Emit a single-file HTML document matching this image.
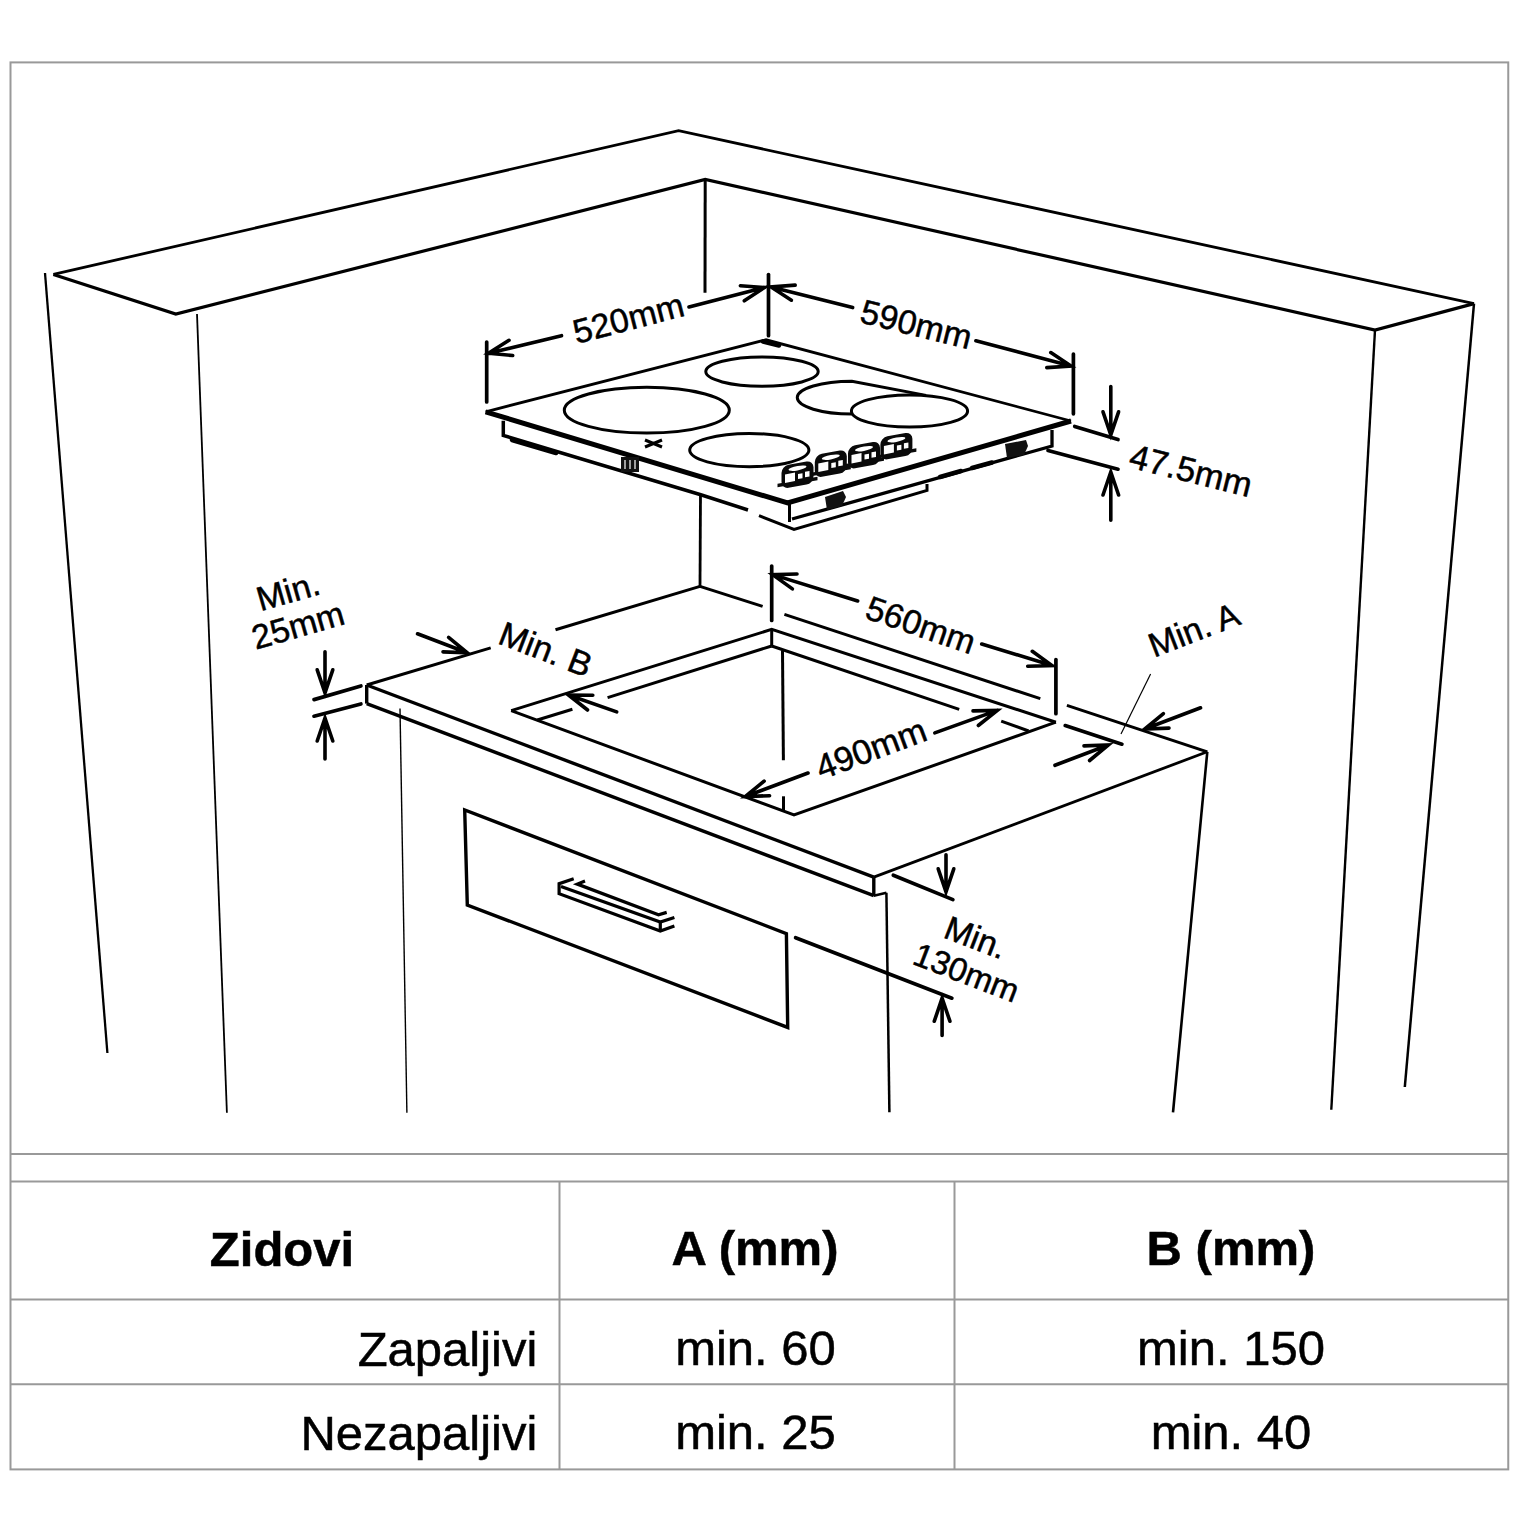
<!DOCTYPE html>
<html><head><meta charset="utf-8"><style>
html,body{margin:0;padding:0;background:#fff;width:1536px;height:1536px;overflow:hidden}
svg{display:block}
text{font-family:"Liberation Sans",sans-serif;fill:#000;stroke:#000;stroke-width:0.5px}
</style></head><body>
<svg width="1536" height="1536" viewBox="0 0 1536 1536">
<rect x="10.5" y="62.4" width="1497.75" height="1407" fill="none" stroke="#999" stroke-width="2"/>
<g stroke="#999" stroke-width="2">
<line x1="10.5" y1="1154" x2="1508.25" y2="1154"/>
<line x1="10.5" y1="1181.5" x2="1508.25" y2="1181.5"/>
<line x1="10.5" y1="1299.5" x2="1508.25" y2="1299.5"/>
<line x1="10.5" y1="1384.2" x2="1508.25" y2="1384.2"/>
<line x1="559.5" y1="1181.5" x2="559.5" y2="1469.4"/>
<line x1="954.5" y1="1181.5" x2="954.5" y2="1469.4"/>
</g>
<g stroke="#000" stroke-linecap="butt" stroke-linejoin="miter" fill="none">
<path d="M53.4,274.4 L678.6,130.7 L1474.0,303.6" stroke-width="2.8" fill="none" />
<path d="M1474.0,303.6 L1375.0,330.0 L705.2,179.4 L175.8,314.0 L53.4,274.4" stroke-width="3.2" fill="none" />
<line x1="45.0" y1="273.0" x2="107.4" y2="1053.0" stroke-width="2.3" />
<line x1="197.0" y1="314.0" x2="226.9" y2="1112.8" stroke-width="1.8" />
<line x1="705.2" y1="179.4" x2="705.0" y2="292.7" stroke-width="3" />
<line x1="700.5" y1="494.8" x2="700.0" y2="586.4" stroke-width="2.8" />
<line x1="1375.0" y1="330.0" x2="1331.3" y2="1109.7" stroke-width="2.4" />
<line x1="1474.0" y1="303.6" x2="1404.8" y2="1087.0" stroke-width="2.5" />
<line x1="366.7" y1="685.0" x2="873.8" y2="877.1" stroke-width="3.4" />
<line x1="873.8" y1="877.1" x2="1207.3" y2="751.8" stroke-width="2.8" />
<line x1="366.7" y1="685.0" x2="366.7" y2="703.6" stroke-width="3.4" />
<line x1="366.7" y1="703.6" x2="873.8" y2="895.7" stroke-width="3.4" />
<line x1="873.8" y1="877.1" x2="873.8" y2="895.7" stroke-width="3.4" />
<line x1="873.8" y1="895.7" x2="886.4" y2="892.8" stroke-width="2.5" />
<line x1="886.4" y1="892.8" x2="889.4" y2="1112.3" stroke-width="2.5" />
<line x1="1207.3" y1="751.8" x2="1173.0" y2="1112.3" stroke-width="2.6" />
<line x1="400.0" y1="708.4" x2="406.9" y2="1112.8" stroke-width="1.4" />
<line x1="366.7" y1="685.0" x2="490.7" y2="647.9" stroke-width="3" />
<line x1="555.5" y1="629.8" x2="700.0" y2="586.4" stroke-width="3" />
<line x1="700.0" y1="586.4" x2="762.6" y2="606.4" stroke-width="3" />
<line x1="784.4" y1="614.3" x2="1040.3" y2="698.7" stroke-width="3" />
<line x1="1066.9" y1="705.3" x2="1207.3" y2="751.8" stroke-width="3" />
<path d="M511.2,710.6 L771.7,629.3 L1055.9,722.2" stroke-width="3" fill="none" />
<path d="M511.2,710.6 L794.0,815.0 L1055.9,722.2" stroke-width="3" fill="none" />
<line x1="771.7" y1="629.3" x2="771.7" y2="646.0" stroke-width="3" />
<line x1="771.7" y1="646.0" x2="607.6" y2="697.6" stroke-width="3" />
<line x1="572.4" y1="709.3" x2="537.3" y2="720.0" stroke-width="3" />
<line x1="771.7" y1="646.0" x2="959.2" y2="709.4" stroke-width="3" />
<line x1="1001.2" y1="721.1" x2="1028.6" y2="731.0" stroke-width="3" />
<line x1="782.5" y1="650.8" x2="783.4" y2="760.2" stroke-width="3" />
<line x1="783.5" y1="796.3" x2="783.5" y2="811.0" stroke-width="3" />
<line x1="771.7" y1="566.0" x2="771.7" y2="620.5" stroke-width="3.7" stroke-linecap="round" />
<path d="M857.7,601.0 L772.7,574.6 M797.0,574.0 L772.7,574.6 L792.4,588.9" stroke-width="3.6" fill="none" stroke-linecap="round" />
<path d="M981.7,644.0 L1052.0,665.5 M1027.7,666.2 L1052.0,665.5 L1032.3,651.3" stroke-width="3.6" fill="none" stroke-linecap="round" />
<line x1="1055.9" y1="659.6" x2="1055.9" y2="713.7" stroke-width="3.7" stroke-linecap="round" />
<text x="863.4" y="617.7" font-size="34" font-weight="normal" text-anchor="start" transform="rotate(19 863.4 617.7)">560mm</text>
<path d="M808.0,773.0 L745.3,796.5 M764.1,781.1 L745.3,796.5 L769.6,795.7" stroke-width="3.6" fill="none" stroke-linecap="round" />
<path d="M934.8,732.9 L997.3,710.4 M978.3,725.5 L997.3,710.4 L973.0,710.9" stroke-width="3.6" fill="none" stroke-linecap="round" />
<text x="821.3" y="780.0" font-size="34.5" font-weight="normal" text-anchor="start" transform="rotate(-20.5 821.3 780.0)">490mm</text>
<path d="M417.5,633.8 L467.3,652.8 M443.0,651.9 L467.3,652.8 L448.6,637.3" stroke-width="3.6" fill="none" stroke-linecap="round" />
<path d="M616.7,711.9 L568.5,695.0 M592.8,695.2 L568.5,695.0 L587.6,710.0" stroke-width="3.6" fill="none" stroke-linecap="round" />
<text x="496.4" y="643.0" font-size="34" font-weight="normal" text-anchor="start" transform="rotate(21 496.4 643.0)">Min. B</text>
<line x1="1065.2" y1="725.6" x2="1121.9" y2="744.2" stroke-width="3.7" stroke-linecap="round" />
<line x1="1150.6" y1="674.0" x2="1121.0" y2="734.0" stroke-width="1.2" />
<path d="M1200.6,707.8 L1144.7,729.0 M1163.4,713.6 L1144.7,729.0 L1169.0,728.1" stroke-width="3.6" fill="none" stroke-linecap="round" />
<path d="M1055.0,765.3 L1108.3,745.0 M1089.6,760.5 L1108.3,745.0 L1084.0,745.9" stroke-width="3.6" fill="none" stroke-linecap="round" />
<text x="1154.0" y="657.7" font-size="34" font-weight="normal" text-anchor="start" transform="rotate(-21 1154.0 657.7)">Min. A</text>
<line x1="314.0" y1="699.6" x2="360.9" y2="686.0" stroke-width="3.7" stroke-linecap="round" />
<line x1="314.0" y1="716.2" x2="360.9" y2="704.0" stroke-width="3.7" stroke-linecap="round" />
<path d="M325.0,651.8 L325.0,692.8 M317.2,669.8 L325.0,692.8 L332.8,669.8" stroke-width="3.6" fill="none" stroke-linecap="round" />
<path d="M325.0,759.0 L325.0,718.0 M332.8,741.0 L325.0,718.0 L317.2,741.0" stroke-width="3.6" fill="none" stroke-linecap="round" />
<text x="260.4" y="611.3" font-size="34" font-weight="normal" text-anchor="start" transform="rotate(-16 260.4 611.3)">Min.</text>
<text x="255.8" y="649.8" font-size="34" font-weight="normal" text-anchor="start" transform="rotate(-16 255.8 649.8)">25mm</text>
<line x1="893.3" y1="875.2" x2="952.9" y2="899.6" stroke-width="3.7" stroke-linecap="round" />
<path d="M946.0,854.7 L946.0,891.8 M938.2,868.8 L946.0,891.8 L953.8,868.8" stroke-width="3.6" fill="none" stroke-linecap="round" />
<line x1="795.6" y1="937.7" x2="951.9" y2="998.2" stroke-width="3.7" stroke-linecap="round" />
<path d="M942.1,1035.4 L942.1,998.2 M949.9,1021.2 L942.1,998.2 L934.3,1021.2" stroke-width="3.6" fill="none" stroke-linecap="round" />
<text x="942.0" y="937.0" font-size="33.5" font-weight="normal" text-anchor="start" transform="rotate(21 942.0 937.0)">Min.</text>
<text x="911.0" y="963.5" font-size="33" font-weight="normal" text-anchor="start" transform="rotate(21 911.0 963.5)">130mm</text>
<path d="M464.7,810.0 L467.3,905.0 L787.7,1027.4 L786.4,933.6 L464.7,810.0 Z" stroke-width="3.4" fill="none" />
<path d="M573.7,878.7 L559.1,883.7 L559.1,893.7 L660.3,931.1 L674.4,926.0" stroke-width="3.2" fill="none" />
<path d="M561.0,886.4 L660.3,922.0 L674.4,917.4" stroke-width="3.2" fill="none" />
<line x1="660.3" y1="922.0" x2="660.3" y2="931.1" stroke-width="3.2" />
<path d="M585.0,881.0 L577.3,884.1 L658.5,914.7 L666.7,912.4" stroke-width="3.2" fill="none" />
<path d="M485.6,411.8 L766.0,339.8 L1071.0,421.0" stroke-width="2.8" fill="none" />
<path d="M485.6,411.8 L787.6,502.9 L1071.0,421.0" stroke-width="5" fill="none" />
<ellipse cx="646.8" cy="410.2" rx="82.5" ry="22.9" stroke-width="3" fill="white" transform="rotate(0 646.8 410.2)"/>
<ellipse cx="762.0" cy="371.6" rx="56.2" ry="14.6" stroke-width="3" fill="white" transform="rotate(0 762.0 371.6)"/>
<ellipse cx="749.3" cy="450.1" rx="59.6" ry="16.6" stroke-width="3" fill="white" transform="rotate(0 749.3 450.1)"/>
<path d="M851.9,381.2 L926,395.4 L926,414 L851.9,414 A54.7,16.4 0 0 1 851.9,381.2 Z" fill="white" stroke="none"/>
<path d="M926,395.4 L851.9,381.2 A54.7,16.4 0 0 0 851.9,414" fill="none" stroke-width="3"/>
<ellipse cx="909.5" cy="411.0" rx="58.1" ry="16.1" stroke-width="3" fill="white" transform="rotate(0 909.5 411.0)"/>
<path d="M503.3,420.8 L503.3,435.4 L700.8,494.8 L748.0,510.0" stroke-width="3.5" fill="none" />
<path d="M759.0,515.6 L794.0,529.5 L927.0,490.5 L927.0,484.0" stroke-width="3" fill="none" />
<line x1="789.5" y1="503.0" x2="789.5" y2="522.0" stroke-width="3" />
<path d="M792.0,519.0 L1052.0,446.0 L1052.0,430.0" stroke-width="3.3" fill="none" />
<line x1="940.0" y1="477.0" x2="961.0" y2="471.0" stroke-width="4.5" stroke-linecap="round" />
<line x1="972.0" y1="468.0" x2="992.0" y2="462.5" stroke-width="4.5" stroke-linecap="round" />
<line x1="512.0" y1="440.0" x2="556.0" y2="453.0" stroke-width="4.5" stroke-linecap="round" />
<line x1="1074.7" y1="426.4" x2="1118.0" y2="439.6" stroke-width="3.7" stroke-linecap="round" />
<line x1="1048.0" y1="450.5" x2="1118.0" y2="469.2" stroke-width="3.7" stroke-linecap="round" />
<path d="M1110.8,386.6 L1110.8,434.8 M1103.0,411.8 L1110.8,434.8 L1118.6,411.8" stroke-width="3.6" fill="none" stroke-linecap="round" />
<path d="M1110.8,520.3 L1110.8,472.0 M1118.6,495.0 L1110.8,472.0 L1103.0,495.0" stroke-width="3.6" fill="none" stroke-linecap="round" />
<text x="1127.6" y="467.0" font-size="34.5" font-weight="normal" text-anchor="start" transform="rotate(14 1127.6 467.0)">47.5mm</text>
<line x1="486.7" y1="342.0" x2="486.7" y2="402.0" stroke-width="3.7" stroke-linecap="round" />
<line x1="768.5" y1="274.5" x2="768.5" y2="335.7" stroke-width="3.7" stroke-linecap="round" />
<line x1="1073.4" y1="354.0" x2="1073.4" y2="413.8" stroke-width="3.7" stroke-linecap="round" />
<path d="M561.5,335.7 L488.5,353.3 M509.0,340.3 L488.5,353.3 L512.7,355.5" stroke-width="3.6" fill="none" stroke-linecap="round" />
<path d="M689.0,307.0 L764.6,287.5 M744.3,300.8 L764.6,287.5 L740.4,285.7" stroke-width="3.6" fill="none" stroke-linecap="round" />
<text x="576.5" y="343.9" font-size="34" font-weight="normal" text-anchor="start" transform="rotate(-14.5 576.5 343.9)">520mm</text>
<path d="M852.7,307.6 L771.0,287.0 M795.2,285.1 L771.0,287.0 L791.4,300.2" stroke-width="3.6" fill="none" stroke-linecap="round" />
<line x1="763.0" y1="341.5" x2="779.0" y2="345.5" stroke-width="4.5" stroke-linecap="round" />
<path d="M975.9,340.8 L1071.0,366.0 M1046.8,367.6 L1071.0,366.0 L1050.8,352.6" stroke-width="3.6" fill="none" stroke-linecap="round" />
<text x="858.5" y="322.0" font-size="34" font-weight="normal" text-anchor="start" transform="rotate(14 858.5 322.0)">590mm</text>
<g transform="translate(781.5,466.0) skewY(-10)"><rect x="0" y="0" width="32" height="23" rx="7" fill="#0a0a0a" stroke="none"/><rect x="-4" y="17" width="40" height="3.5" fill="#0a0a0a" stroke="none"/><ellipse cx="16" cy="5" rx="9" ry="2.2" fill="#fff" stroke="none"/><rect x="3.5" y="9" width="10" height="8.5" fill="#fff" stroke="none"/><rect x="16.5" y="11" width="4.5" height="5" fill="#fff" stroke="none"/><rect x="23.5" y="10" width="4.5" height="5.5" fill="#fff" stroke="none"/></g>
<g transform="translate(814.8,455.0) skewY(-10)"><rect x="0" y="0" width="32" height="23" rx="7" fill="#0a0a0a" stroke="none"/><rect x="-4" y="17" width="40" height="3.5" fill="#0a0a0a" stroke="none"/><ellipse cx="16" cy="5" rx="9" ry="2.2" fill="#fff" stroke="none"/><rect x="3.5" y="9" width="10" height="8.5" fill="#fff" stroke="none"/><rect x="16.5" y="11" width="4.5" height="5" fill="#fff" stroke="none"/><rect x="23.5" y="10" width="4.5" height="5.5" fill="#fff" stroke="none"/></g>
<g transform="translate(848.0,446.5) skewY(-10)"><rect x="0" y="0" width="32" height="23" rx="7" fill="#0a0a0a" stroke="none"/><rect x="-4" y="17" width="40" height="3.5" fill="#0a0a0a" stroke="none"/><ellipse cx="16" cy="5" rx="9" ry="2.2" fill="#fff" stroke="none"/><rect x="3.5" y="9" width="10" height="8.5" fill="#fff" stroke="none"/><rect x="16.5" y="11" width="4.5" height="5" fill="#fff" stroke="none"/><rect x="23.5" y="10" width="4.5" height="5.5" fill="#fff" stroke="none"/></g>
<g transform="translate(880.4,437.5) skewY(-10)"><rect x="0" y="0" width="32" height="23" rx="7" fill="#0a0a0a" stroke="none"/><rect x="-4" y="17" width="40" height="3.5" fill="#0a0a0a" stroke="none"/><ellipse cx="16" cy="5" rx="9" ry="2.2" fill="#fff" stroke="none"/><rect x="3.5" y="9" width="10" height="8.5" fill="#fff" stroke="none"/><rect x="16.5" y="11" width="4.5" height="5" fill="#fff" stroke="none"/><rect x="23.5" y="10" width="4.5" height="5.5" fill="#fff" stroke="none"/></g>
<rect x="621" y="457" width="18" height="15" fill="#111" stroke="none"/>
<path d="M625,460 L625,469 M630,460 L630,469 M635,460 L635,469" stroke="#fff" stroke-width="1.2"/>
<path d="M645,440 L662,447 M645,447 L662,440" stroke-width="3"/>
<path d="M825,497 L843,491 L846,497 L842,506 L827,510 Z" fill="#111" stroke="none"/>
<path d="M1005,444 L1026,440 L1028,446 L1024,455 L1007,458 Z" fill="#111" stroke="none"/>
</g>

<text x="282" y="1266" font-size="49" font-weight="bold" text-anchor="middle">Zidovi</text>
<text x="755" y="1265.3" font-size="49" font-weight="bold" text-anchor="middle">A (mm)</text>
<text x="1231" y="1265.3" font-size="49" font-weight="bold" text-anchor="middle">B (mm)</text>
<text x="537.4" y="1365.5" font-size="49" text-anchor="end">Zapaljivi</text>
<text x="537.4" y="1449.5" font-size="49" text-anchor="end">Nezapaljivi</text>
<text x="755.5" y="1364.6" font-size="49" text-anchor="middle">min. 60</text>
<text x="755.5" y="1449.2" font-size="49" text-anchor="middle">min. 25</text>
<text x="1231" y="1364.6" font-size="49" text-anchor="middle">min. 150</text>
<text x="1231" y="1449.2" font-size="49" text-anchor="middle">min. 40</text>

</svg>
</body></html>
